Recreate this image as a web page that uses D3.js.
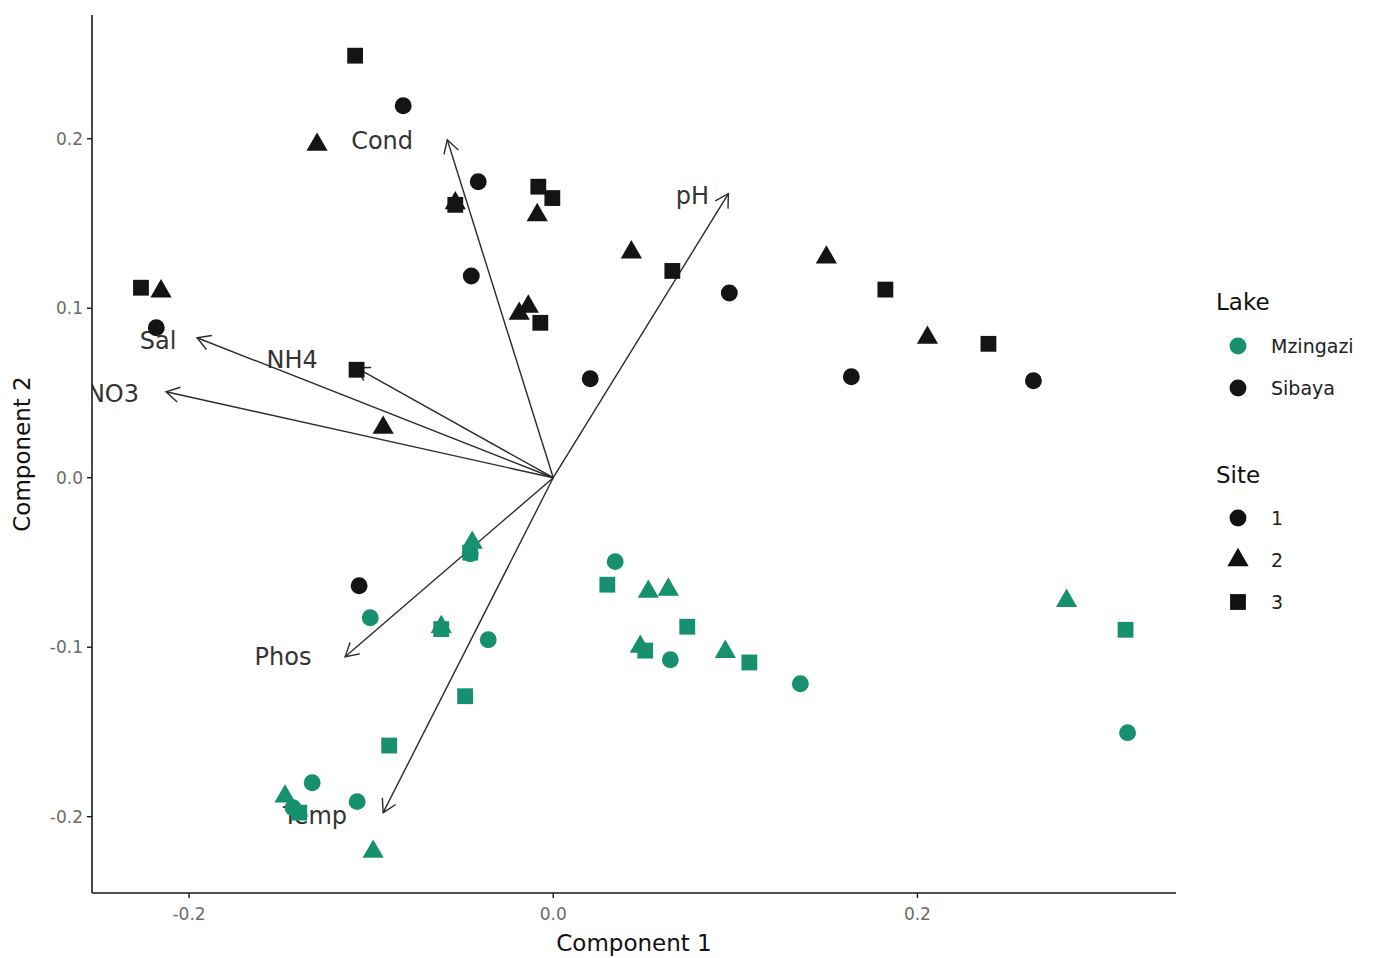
<!DOCTYPE html>
<html>
<head>
<meta charset="utf-8">
<script src="https://cdn.jsdelivr.net/npm/d3@7"></script>
<style>
  html, body { margin: 0; padding: 0; background: #ffffff; }
  svg { display: block; font-family: "DejaVu Sans", "Liberation Sans", sans-serif; }
</style>
</head>
<body>
<svg id="chart" width="1383" height="958"></svg>
<script>
// PCA scores: [Component 1, Component 2] per sample, grouped by lake and site
const lakes = ["Mzingazi", "Sibaya"];
const sites = ["1", "2", "3"];

const sibayaSite1 = [
  [-0.0824, 0.2195], [-0.0412, 0.1746], [-0.0450, 0.1190], [0.0967, 0.1090],
  [0.1637, 0.0596], [0.2637, 0.0572], [0.0203, 0.0584], [-0.2180, 0.0885],
  [-0.1066, -0.0637]
];
const sibayaSite2 = [
  [-0.1297, 0.1965], [-0.0538, 0.1620], [-0.0088, 0.1550], [0.0429, 0.1330],
  [0.1500, 0.1300], [0.2055, 0.0826], [-0.2154, 0.1100], [-0.0137, 0.1010],
  [-0.0187, 0.0968], [-0.0934, 0.0295]
];
const sibayaSite3 = [
  [-0.1088, 0.2490], [-0.0538, 0.1610], [-0.0082, 0.1717], [-0.0005, 0.1650],
  [0.0654, 0.1220], [0.1824, 0.1110], [0.2390, 0.0790], [-0.2264, 0.1121],
  [-0.0071, 0.0914], [-0.1080, 0.0637]
];
const mzingaziSite1 = [
  [0.0340, -0.0495], [-0.0357, -0.0956], [0.0643, -0.1074], [0.1357, -0.1215],
  [0.3154, -0.1504], [-0.1005, -0.0826], [-0.1324, -0.1800], [-0.1077, -0.1911],
  [-0.1429, -0.1947], [-0.0456, -0.0448]
];
const mzingaziSite2 = [
  [-0.0445, -0.0383], [0.0522, -0.0672], [0.0632, -0.0660], [0.0478, -0.0997],
  [0.0945, -0.1027], [0.2819, -0.0726], [-0.1473, -0.1880], [-0.0989, -0.2206],
  [-0.0615, -0.0880]
];
const mzingaziSite3 = [
  [-0.0456, -0.0442], [0.0297, -0.0631], [0.0505, -0.1020], [0.0736, -0.0879],
  [0.1077, -0.1090], [0.3143, -0.0897], [-0.0484, -0.1289], [-0.0901, -0.1580],
  [-0.1395, -0.1976], [-0.0615, -0.0893]
];

// Variable loadings (arrow tips) and their label anchors, in component units
const variables = ["Cond", "pH", "Sal", "NO3", "NH4", "Phos", "Temp"];
const loadingPC1 = [-0.0582, 0.0962, -0.1956, -0.2126, -0.1082, -0.1143, -0.0934];
const loadingPC2 = [0.1994, 0.1676, 0.0826, 0.0507, 0.0649, -0.1056, -0.1976];
const labelPC1 = [-0.0940, 0.0764, -0.2170, -0.2418, -0.1434, -0.1484, -0.1308];
const labelPC2 = [0.1988, 0.1664, 0.0808, 0.0496, 0.0696, -0.1056, -0.1994];

// Axis ticks
const xTicks = [-0.2, 0.0, 0.2];
const xTickLabels = ["-0.2", "0.0", "0.2"];
const yTicks = [-0.2, -0.1, 0.0, 0.1, 0.2];
const yTickLabels = ["-0.2", "-0.1", "0.0", "0.1", "0.2"];

// Assemble sample rows
const groups = [
  { lake: "Sibaya", site: "1", pts: sibayaSite1 },
  { lake: "Sibaya", site: "2", pts: sibayaSite2 },
  { lake: "Sibaya", site: "3", pts: sibayaSite3 },
  { lake: "Mzingazi", site: "1", pts: mzingaziSite1 },
  { lake: "Mzingazi", site: "2", pts: mzingaziSite2 },
  { lake: "Mzingazi", site: "3", pts: mzingaziSite3 }
];
const rows = groups.flatMap(g => g.pts.map(p => ({ lake: g.lake, site: g.site, pc1: p[0], pc2: p[1] })));

const loadings = variables.map((v, i) => ({
  name: v, x: loadingPC1[i], y: loadingPC2[i], lx: labelPC1[i], ly: labelPC2[i]
}));

// Layout
const panel = { left: 92, right: 1176, top: 15, bottom: 893 };

const x = d3.scaleLinear().domain([-0.2533, 0.342]).range([panel.left, panel.right]);
const y = d3.scaleLinear().domain([-0.245, 0.273]).range([panel.bottom, panel.top]);

const color = d3.scaleOrdinal().domain(lakes).range(["#17906f", "#141414"]);
const shape = d3.scaleOrdinal().domain(sites).range([d3.symbolCircle, d3.symbolTriangle, d3.symbolSquare]);
const shapeSize = d3.scaleOrdinal().domain(sites).range([225, 195, 250]);

const svg = d3.select("#chart");

svg.append("defs").append("clipPath").attr("id", "panel-clip")
  .append("rect")
  .attr("x", panel.left).attr("y", panel.top)
  .attr("width", panel.right - panel.left).attr("height", panel.bottom - panel.top);

const plot = svg.append("g").attr("clip-path", "url(#panel-clip)");

// Loading arrows
const origin = [x(0), y(0)];
const arrowG = plot.append("g").attr("class", "loadings");
loadings.forEach(d => {
  const tx = x(d.x), ty = y(d.y);
  arrowG.append("line")
    .attr("x1", origin[0]).attr("y1", origin[1])
    .attr("x2", tx).attr("y2", ty)
    .attr("stroke", "#2b2b2b").attr("stroke-width", 1.4);
  const ang = Math.atan2(ty - origin[1], tx - origin[0]);
  const len = 15, spread = Math.PI / 6;
  const p1 = [tx - len * Math.cos(ang - spread), ty - len * Math.sin(ang - spread)];
  const p2 = [tx - len * Math.cos(ang + spread), ty - len * Math.sin(ang + spread)];
  arrowG.append("path")
    .attr("d", `M${p1[0]},${p1[1]}L${tx},${ty}L${p2[0]},${p2[1]}`)
    .attr("fill", "none").attr("stroke", "#2b2b2b").attr("stroke-width", 1.4);
});

// Loading labels
plot.append("g").selectAll("text").data(loadings).join("text")
  .attr("x", d => x(d.lx)).attr("y", d => y(d.ly))
  .attr("text-anchor", "middle").attr("dominant-baseline", "central")
  .attr("font-size", 24).attr("fill", "#333333")
  .text(d => d.name);

// Sample points
plot.append("g").selectAll("path").data(rows).join("path")
  .attr("transform", d => `translate(${x(d.pc1)},${y(d.pc2)})`)
  .attr("d", d => d3.symbol().type(shape(d.site)).size(shapeSize(d.site))())
  .attr("fill", d => color(d.lake));

// Axes
const axisColor = "#1a1a1a";
const axes = svg.append("g");
axes.append("line")
  .attr("x1", panel.left).attr("x2", panel.left)
  .attr("y1", panel.top).attr("y2", panel.bottom)
  .attr("stroke", axisColor).attr("stroke-width", 1.6);
axes.append("line")
  .attr("x1", panel.left).attr("x2", panel.right)
  .attr("y1", panel.bottom).attr("y2", panel.bottom)
  .attr("stroke", axisColor).attr("stroke-width", 1.6);

axes.append("g").selectAll("line").data(xTicks).join("line")
  .attr("x1", d => x(d)).attr("x2", d => x(d))
  .attr("y1", panel.bottom).attr("y2", panel.bottom + 5)
  .attr("stroke", axisColor).attr("stroke-width", 1.4);
axes.append("g").selectAll("text").data(xTicks).join("text")
  .attr("x", d => x(d)).attr("y", panel.bottom + 21)
  .attr("text-anchor", "middle").attr("dominant-baseline", "central")
  .attr("font-size", 17).attr("fill", "#6b6b6b")
  .text((d, i) => xTickLabels[i]);

axes.append("g").selectAll("line").data(yTicks).join("line")
  .attr("x1", panel.left - 5).attr("x2", panel.left)
  .attr("y1", d => y(d)).attr("y2", d => y(d))
  .attr("stroke", axisColor).attr("stroke-width", 1.4);
axes.append("g").selectAll("text").data(yTicks).join("text")
  .attr("x", panel.left - 9).attr("y", d => y(d))
  .attr("text-anchor", "end").attr("dominant-baseline", "central")
  .attr("font-size", 17).attr("fill", "#6b6b6b")
  .text((d, i) => yTickLabels[i]);

// Axis titles
svg.append("text")
  .attr("x", (panel.left + panel.right) / 2).attr("y", 943)
  .attr("text-anchor", "middle").attr("dominant-baseline", "central")
  .attr("font-size", 23).attr("fill", "#111")
  .text("Component 1");
svg.append("text")
  .attr("transform", `translate(22,${(panel.top + panel.bottom) / 2}) rotate(-90)`)
  .attr("text-anchor", "middle").attr("dominant-baseline", "central")
  .attr("font-size", 23).attr("fill", "#111")
  .text("Component 2");

// Legends
const legend = svg.append("g");
legend.append("text").attr("x", 1216).attr("y", 302)
  .attr("dominant-baseline", "central").attr("font-size", 23).attr("fill", "#111")
  .text("Lake");
const lakeRows = legend.append("g").selectAll("g").data(lakes).join("g")
  .attr("transform", (d, i) => `translate(1238,${346 + i * 42})`);
lakeRows.append("path")
  .attr("d", d3.symbol().type(d3.symbolCircle).size(225)())
  .attr("fill", d => color(d));
lakeRows.append("text").attr("x", 33).attr("y", 0)
  .attr("dominant-baseline", "central").attr("font-size", 19).attr("fill", "#222")
  .text(d => d);

legend.append("text").attr("x", 1216).attr("y", 475)
  .attr("dominant-baseline", "central").attr("font-size", 23).attr("fill", "#111")
  .text("Site");
const siteRows = legend.append("g").selectAll("g").data(sites).join("g")
  .attr("transform", (d, i) => `translate(1238,${518 + i * 42})`);
siteRows.append("path")
  .attr("d", d => d3.symbol().type(shape(d)).size(shapeSize(d))())
  .attr("fill", "#111");
siteRows.append("text").attr("x", 33).attr("y", 0)
  .attr("dominant-baseline", "central").attr("font-size", 19).attr("fill", "#222")
  .text(d => d);
</script>
</body>
</html>
